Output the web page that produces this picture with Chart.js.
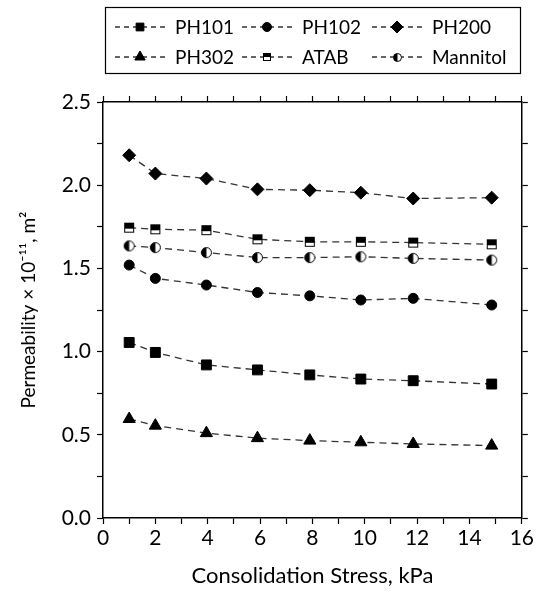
<!DOCTYPE html>
<html>
<head>
<meta charset="utf-8">
<script src="https://cdn.jsdelivr.net/npm/chart.js@4.4.0/dist/chart.umd.min.js"></script>
<style>
  html, body { margin: 0; padding: 0; background: #fff; }
  #wrap { width: 536px; height: 592px; position: relative; }
</style>
</head>
<body>
<div id="wrap"><canvas id="myChart"></canvas></div>
<script>
// consolidation stress (kPa) for each measurement
const stress = [1, 2, 3.95, 5.9, 7.9, 9.85, 11.85, 14.85];

// permeability x 1e-11 m2
const ph101 = [1.055, 0.995, 0.92, 0.89, 0.86, 0.835, 0.825, 0.805];
const ph102 = [1.52, 1.44, 1.40, 1.355, 1.335, 1.31, 1.32, 1.28];
const ph200 = [2.18, 2.07, 2.04, 1.975, 1.97, 1.955, 1.92, 1.925];
const ph302 = [0.595, 0.555, 0.51, 0.48, 0.465, 0.455, 0.445, 0.435];
const atab = [1.745, 1.735, 1.73, 1.675, 1.66, 1.66, 1.655, 1.645];
const mannitol = [1.635, 1.625, 1.595, 1.565, 1.565, 1.57, 1.56, 1.55];

const seriesNames = ["PH101", "PH102", "PH200", "PH302", "ATAB", "Mannitol"];

const xTicksMajor = [0, 2, 4, 6, 8, 10, 12, 14, 16];
const yTicksMajor = [0.0, 0.5, 1.0, 1.5, 2.0, 2.5];

const FONT = "Lato, 'Open Sans', sans-serif";

// half filled square (top black) and half filled circle (left black)
function halfSquare(side) {
  let c = document.createElement("canvas");
  c.width = side + 2;
  c.height = side + 2;
  let ctx = c.getContext("2d");
  ctx.fillStyle = "#fff";
  ctx.fillRect(1, 1, side, side);
  ctx.fillStyle = "#000";
  ctx.fillRect(1, 1, side, Math.round(side * 0.55));
  ctx.strokeStyle = "#000";
  ctx.lineWidth = 1;
  ctx.strokeRect(1.5, 1.5, side - 1, side - 1);
  return c;
}

function halfCircle(d) {
  let c = document.createElement("canvas");
  c.width = d + 2;
  c.height = d + 2;
  let ctx = c.getContext("2d");
  let r = d / 2;
  let cx = r + 1, cy = r + 1;
  ctx.beginPath();
  ctx.arc(cx, cy, r - 0.5, 0, Math.PI * 2);
  ctx.fillStyle = "#fff";
  ctx.fill();
  ctx.beginPath();
  ctx.arc(cx, cy, r - 0.5, Math.PI / 2, Math.PI * 3 / 2);
  ctx.closePath();
  ctx.fillStyle = "#000";
  ctx.fill();
  ctx.beginPath();
  ctx.arc(cx, cy, r - 0.5, 0, Math.PI * 2);
  ctx.strokeStyle = "#000";
  ctx.lineWidth = 1;
  ctx.stroke();
  return c;
}

const styles = [
  { pointStyle: "rect", radius: 7, legendRadius: 5.5 },
  { pointStyle: "circle", radius: 5, legendRadius: 4.5 },
  { pointStyle: "rectRot", radius: 6.5, legendRadius: 6 },
  { pointStyle: "triangle", radius: 7, legendRadius: 6 },
  { pointStyle: halfSquare(10), legendStyle: halfSquare(8) },
  { pointStyle: halfCircle(11), legendStyle: halfCircle(9) }
];

const allValues = [ph101, ph102, ph200, ph302, atab, mannitol];

const datasets = allValues.map(function (vals, i) {
  return {
    label: seriesNames[i],
    data: vals.map(function (v, j) { return { x: stress[j], y: v }; }),
    borderColor: "#333",
    borderWidth: 1.3,
    borderDash: [7, 5],
    tension: 0,
    fill: false,
    pointStyle: styles[i].pointStyle,
    pointRadius: styles[i].radius || 5,
    pointBackgroundColor: "#000",
    pointBorderColor: "#000",
    pointBorderWidth: 1
  };
});

// legend drawn by hand: box with two rows of three entries
const legendPlugin = {
  id: "boxLegend",
  afterDraw: function (chart) {
    const ctx = chart.ctx;
    ctx.save();
    ctx.strokeStyle = "#000";
    ctx.lineWidth = 1.2;
    ctx.strokeRect(105.5, 7.5, 415, 66);

    const colX = [140, 267, 397];
    const rowY = [27, 57];
    ctx.font = "19px " + FONT;
    ctx.textBaseline = "middle";
    ctx.fillStyle = "#000";

    for (let i = 0; i < seriesNames.length; i++) {
      let mx = colX[i % 3];
      let my = rowY[Math.floor(i / 3)];
      ctx.beginPath();
      ctx.setLineDash([5, 4]);
      ctx.strokeStyle = "#333";
      ctx.lineWidth = 1.3;
      ctx.moveTo(mx - 25, my);
      ctx.lineTo(mx + 27, my);
      ctx.stroke();
      ctx.setLineDash([]);

      let st = styles[i];
      ctx.fillStyle = "#000";
      ctx.strokeStyle = "#000";
      ctx.lineWidth = 1;
      if (st.legendStyle) {
        ctx.drawImage(st.legendStyle, Math.round(mx - st.legendStyle.width / 2), Math.round(my - st.legendStyle.height / 2));
      } else {
        Chart.helpers.drawPoint(ctx, {
          pointStyle: st.pointStyle,
          radius: st.legendRadius,
          rotation: 0,
          borderWidth: 1
        }, mx, my);
      }
      ctx.fillStyle = "#000";
      ctx.fillText(seriesNames[i], mx + 35, my + 1);
    }
    ctx.restore();
  }
};

function isMajor(v, list) {
  return list.some(function (m) { return Math.abs(m - v) < 1e-6; });
}

const gridOpts = {
  drawOnChartArea: false,
  drawTicks: true,
  tickLength: 6,
  tickColor: "#000",
  tickWidth: 1.2
};
const borderOpts = { display: true, color: "#000", width: 1.5 };

const config = {
  type: "line",
  data: { datasets: datasets },
  plugins: [legendPlugin],
  options: {
    responsive: true,
    maintainAspectRatio: false,
    animation: false,
    layout: { padding: { left: 0, right: 0, top: 0, bottom: 0 } },
    plugins: {
      legend: { display: false },
      tooltip: { enabled: false }
    },
    scales: {
      x: {
        type: "linear",
        position: "bottom",
        min: 0,
        max: 16,
        afterFit: function (scale) { scale.height = 74; },
        ticks: {
          stepSize: 1,
          autoSkip: false,
          maxRotation: 0,
          padding: 2,
          color: "#000",
          font: { family: FONT, size: 21 },
          callback: function (v) { return isMajor(v, xTicksMajor) ? String(v) : ""; }
        },
        grid: gridOpts,
        border: borderOpts,
        title: {
          display: true,
          text: "Consolidation Stress, kPa",
          color: "#000",
          font: { family: FONT, size: 22 },
          padding: { top: 0, bottom: 3 }
        }
      },
      xTop: {
        type: "linear",
        position: "top",
        min: 0,
        max: 16,
        afterFit: function (scale) { scale.height = 102; },
        ticks: { stepSize: 1, autoSkip: false, display: false },
        grid: gridOpts,
        border: borderOpts
      },
      y: {
        type: "linear",
        position: "left",
        min: 0,
        max: 2.5,
        afterFit: function (scale) { scale.width = 103; },
        ticks: {
          stepSize: 0.25,
          autoSkip: false,
          padding: 6,
          color: "#000",
          font: { family: FONT, size: 21 },
          callback: function (v) { return isMajor(v, yTicksMajor) ? v.toFixed(1) : ""; }
        },
        grid: gridOpts,
        border: borderOpts,
        title: {
          display: true,
          text: "Permeability × 10⁻¹¹, m²",
          color: "#000",
          font: { family: FONT, size: 19 },
          padding: { top: 17, bottom: 0 }
        }
      },
      yRight: {
        type: "linear",
        position: "right",
        min: 0,
        max: 2.5,
        afterFit: function (scale) { scale.width = 13; },
        ticks: { stepSize: 0.25, autoSkip: false, display: false },
        grid: gridOpts,
        border: borderOpts
      }
    }
  }
};

const canvas = document.getElementById("myChart");
new Chart(canvas, config);
</script>
</body>
</html>
